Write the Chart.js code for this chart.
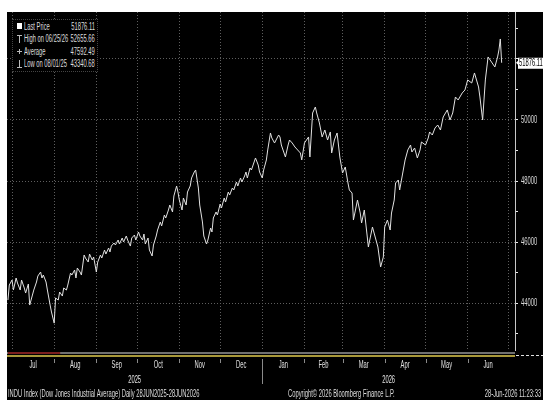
<!DOCTYPE html>
<html>
<head>
<meta charset="utf-8">
<script src="https://cdn.jsdelivr.net/npm/chart.js@4.4.1/dist/chart.umd.min.js"></script>
<style>
  html, body { margin: 0; padding: 0; background: #fff; }
  #frame { position: absolute; left: 7px; top: 12px; width: 536px; height: 388px; background: #000; overflow: hidden; }
  #chart { position: absolute; left: 0; top: 0; }
  .txt { position: absolute; color: #dcdcdc; font-family: 'Liberation Sans', Arial, sans-serif; font-size: 10px; line-height: 11px; white-space: nowrap; transform: scaleX(0.58); transform-origin: left top; }
  .txt.r { transform-origin: right top; }
  #legend { position: absolute; left: 5px; top: 7px; width: 84px; height: 51px; background: #000; border: 1px dotted #444; }
  .row { position: absolute; left: 0; width: 84px; height: 11px; }
  .row .lab { left: 11px; top: 0; }
  .row .val { right: 2px; top: 0; }
  .ico { position: absolute; background: #bbb; }
</style>
</head>
<body>
<div id="frame">
  <canvas id="chart" width="536" height="388" style="width:536px;height:388px"></canvas>
  <div id="legend"></div>
  <div class="txt" style="left:1px;top:376px">INDU Index (Dow Jones Industrial Average) Daily 28JUN2025-28JUN2026</div>
  <div class="txt" style="left:281px;top:376px">Copyright© 2026 Bloomberg Finance L.P.</div>
  <div class="txt r" style="right:2px;top:376px">28-Jun-2026 11:23:33</div>
</div>
<script>
// day 0 = 28 Jun 2025
const startUtc = Date.UTC(2025, 5, 28);
function dayOf(y, m, d) {
    return Math.round((Date.UTC(y, m - 1, d) - startUtc) / 86400000);
}

// daily close (day offset, price)
const days = [
    0, 1, 3, 4, 6, 7, 9, 10, 12, 13, 15, 16, 18, 19, 21, 22, 24, 25, 26, 28, 29, 31, 32, 34, 35, 37, 38, 40, 41, 43, 44,
    46, 47, 49, 50, 51, 53, 54, 56, 57, 59, 60, 62, 63, 65, 66, 68, 69, 71, 72, 74, 75, 76, 78, 79, 81, 82, 84, 85, 87, 88,
    90, 91, 93, 94, 96, 97, 99, 100, 101, 103, 104, 106, 107, 109, 110, 112, 113, 115, 116, 118, 119, 121, 122, 124, 125, 126,
    128, 129, 131, 132, 134, 135, 137, 138, 140, 141, 143, 144, 146, 147, 149, 150, 151, 153, 154, 156, 157, 159, 160, 162, 163,
    165, 166, 168, 169, 171, 172, 174, 175, 176, 178, 179, 181, 182, 184, 185, 187, 188, 190, 191, 193, 194, 196, 199, 200, 201,
    204, 206, 207, 209, 211, 213, 215, 216, 218, 221, 222, 224, 226, 227, 229, 231, 233, 235, 237, 238, 240, 242, 244, 246, 248,
    250, 251, 253, 254, 257, 259, 260, 262, 265, 266, 268, 270, 272, 274, 276, 277, 279, 281, 282, 284, 285, 287, 288, 290, 292,
    294, 296, 297, 299, 301, 303, 304, 307, 309, 310, 312, 314, 316, 318, 320, 323, 325, 327, 329, 331, 334, 336, 338, 341, 343,
    346, 347, 349, 351, 353, 356, 358, 360, 361, 362, 363
];
const closes = [
    44098, 44590, 44754, 44426, 44820, 44656, 44426, 44754, 44492, 44328, 44623, 43934, 44262, 44426, 44689, 44885, 45016, 44820,
    44918, 44689, 44426, 43934, 43705, 43340.68, 44164, 44098, 44361, 44229, 44492, 44426, 44590,
    44983, 44918, 45082, 44820, 45147, 45016, 44918, 45573, 45475, 45344, 45606, 45410, 45508, 45016, 45344, 45573, 45475, 45737,
    45606, 45803, 45672, 45868, 45967, 45901, 46065, 45934, 46131, 46000, 46197, 46065,
    45868, 46131, 46229, 46065, 46328, 46197, 46065, 46262, 45934, 46131, 45737, 45541, 45901, 46197, 46393, 46656, 46525, 46885,
    46787, 47049, 47213, 46984, 47508, 47836, 47639, 47377,
    47049, 47443, 47213, 47639, 47836, 48098, 48295, 48361, 47770, 47213, 46656, 46197, 45934, 46065, 46459, 46328, 46787, 46984,
    46885, 47246, 47115, 47443, 47311, 47639, 47541,
    47770, 47705, 47967, 47836, 48098, 47967, 48164, 48295, 48098, 48426, 48361, 48623, 48754, 48525, 48295, 48098, 48361, 48689,
    49017, 49574, 49410, 49246, 49508, 49443, 49180,
    48787, 49180, 49344, 49246, 49115, 49017, 48918, 48689, 49246, 49443, 48787, 50230, 50426, 50230, 49902, 49443, 49672, 49344,
    49607, 48918, 49344, 49574, 48787, 48262, 48459,
    47934, 47705, 47606, 46721, 47377, 46951, 46623, 47049, 45836, 46065, 46492, 46164, 45836, 45180, 45508, 46492, 46721, 46393,
    46951, 47377, 47934, 48033, 47705, 48197, 48689,
    49017, 49180, 48951, 49082, 48754, 49017, 49279, 49180, 49410, 49607, 49508, 49738, 49836, 49672, 50099, 50328, 50000, 50230,
    50754, 50656, 50886, 50984, 51312, 51213, 51541,
    51082, 50754, 50000, 51312, 52066, 51869, 51738, 52066, 52295, 52655.66, 51876.11
];
const lastPrice = 51876.11;

const legendLabels = ['Last Price', 'High on 06/25/26', 'Average', 'Low on 08/01/25'];
const legendValues = ['51876.11', '52655.66', '47592.49', '43340.68'];

const monthNames = ['Jul', 'Aug', 'Sep', 'Oct', 'Nov', 'Dec', 'Jan', 'Feb', 'Mar', 'Apr', 'May', 'Jun'];
const monthStarts = [
    [2025, 7], [2025, 8], [2025, 9], [2025, 10], [2025, 11], [2025, 12],
    [2026, 1], [2026, 2], [2026, 3], [2026, 4], [2026, 5], [2026, 6], [2026, 7]
];
const yearNames = ['2025', '2026'];
const yLabelled = [44000, 46000, 48000, 50000];
const yMinor = [43000, 44000, 45000, 46000, 47000, 48000, 49000, 50000, 51000, 52000, 53000];

const fontFam = "'Liberation Sans', Arial, sans-serif";
const squeeze = 0.58;
const monthDays = monthStarts.map(m => dayOf(m[0], m[1], 1));
const xMin = -0.7, xMax = 372.8;

// legend box
const legend = document.getElementById('legend');
legendLabels.forEach((lab, i) => {
    const row = document.createElement('div');
    row.className = 'row';
    row.style.top = (1 + i * 12.3) + 'px';
    row.innerHTML = '<span class="txt lab">' + lab + '</span><span class="txt r val">' + legendValues[i] + '</span>';
    legend.appendChild(row);
});
function ico(l, t, w, h, c) {
    const d = document.createElement('div');
    d.className = 'ico';
    Object.assign(d.style, { left: l + 'px', top: t + 'px', width: w + 'px', height: h + 'px' });
    if (c) d.style.background = c;
    legend.appendChild(d);
}
ico(4, 3, 5, 6, '#fff');
ico(6, 15, 1, 8); ico(4, 15, 5, 1);
ico(4, 31, 5, 1); ico(6, 29, 1, 5);
ico(6, 40, 1, 8); ico(4, 47, 5, 1);

// narrow text, like the terminal font
function say(c, str, x, y, align) {
    c.save();
    c.translate(x, y);
    c.scale(squeeze, 1);
    c.textAlign = align || 'center';
    c.fillText(str, 0, 0);
    c.restore();
}

const decor = {
    id: 'decor',
    afterDraw(chart) {
        const c = chart.ctx;
        const xs = chart.scales.x, ys = chart.scales.y;
        const area = chart.chartArea;
        const b = area.bottom;
        c.save();
        // time slider strip under the plot
        c.fillStyle = '#707070';
        c.fillRect(area.left, b + 2, area.right - area.left, 2);
        c.fillStyle = '#7a1e1e';
        c.fillRect(area.left + 1, b + 2, xs.getPixelForValue(monthDays[1]) + 5 - area.left, 2);
        c.fillStyle = '#a8983a';
        c.fillRect(area.left, b + 5, area.right - area.left, 2);
        c.strokeStyle = '#e0e0e0';
        c.setLineDash([3, 2]);
        c.beginPath();
        c.moveTo(area.right + 1, b + 5.5);
        c.lineTo(chart.width, b + 5.5);
        c.stroke();
        c.setLineDash([]);

        c.font = '10px ' + fontFam;
        c.textBaseline = 'middle';

        // right axis labels
        c.fillStyle = '#d8d8d8';
        yLabelled.forEach(v => say(c, String(v), area.right + 6, ys.getPixelForValue(v), 'left'));

        // month labels, centred between month starts
        c.fillStyle = '#e0e0e0';
        c.strokeStyle = '#8a8a8a';
        c.lineWidth = 1;
        for (let i = 0; i < monthNames.length; i++) {
            const a = Math.max(xs.getPixelForValue(monthDays[i]), area.left);
            const e = Math.min(xs.getPixelForValue(monthDays[i + 1]), area.right);
            say(c, monthNames[i], (a + e) / 2, b + 15);
            if (i > 0) {
                const px = Math.round(xs.getPixelForValue(monthDays[i])) + 0.5;
                c.beginPath();
                c.moveTo(px, b + 9);
                c.lineTo(px, i === 6 ? b + 34 : b + 13);
                c.stroke();
            }
        }
        // year labels
        const jan = xs.getPixelForValue(monthDays[6]);
        say(c, yearNames[0], (area.left + jan) / 2, b + 30);
        say(c, yearNames[1], (jan + area.right) / 2, b + 30);

        // last price tag
        const py = ys.getPixelForValue(lastPrice);
        c.fillStyle = '#fff';
        c.fillRect(area.right + 3, py - 5, 25, 11);
        c.beginPath();
        c.moveTo(area.right + 1, py);
        c.lineTo(area.right + 3, py - 2);
        c.lineTo(area.right + 3, py + 2);
        c.fill();
        c.fillStyle = '#000';
        say(c, lastPrice.toFixed(2), area.right + 4, py + 0.5, 'left');
        c.restore();
    }
};

const points = days.map((d, i) => ({ x: d, y: closes[i] }));

new Chart(document.getElementById('chart'), {
    type: 'line',
    data: {
        datasets: [{
            data: points,
            borderColor: '#e2e2e2',
            borderWidth: 1,
            pointRadius: 0,
            tension: 0
        }]
    },
    options: {
        responsive: false,
        animation: false,
        layout: { padding: 0 },
        plugins: { legend: { display: false }, tooltip: { enabled: false } },
        scales: {
            x: {
                type: 'linear',
                min: xMin,
                max: xMax,
                afterBuildTicks: s => { s.ticks = monthDays.map(v => ({ value: v })); },
                afterFit: s => { s.height = 50; },
                ticks: { display: false },
                grid: { color: '#5e5e5e', lineWidth: 1, drawTicks: false },
                border: { display: false, dash: [1, 2] }
            },
            y: {
                position: 'right',
                min: 42460,
                max: 53540,
                afterBuildTicks: s => { s.ticks = yMinor.map(v => ({ value: v })); },
                afterFit: s => { s.width = 28; },
                ticks: { display: false },
                grid: {
                    color: ctx => (ctx.tick && ctx.tick.value % 2000 === 0 ? '#5e5e5e' : 'rgba(0,0,0,0)'),
                    tickColor: '#e8e8e8',
                    tickLength: 3,
                    drawTicks: true
                },
                border: { display: true, color: '#c8c8c8', width: 1, dash: [1, 2] }
            }
        }
    },
    plugins: [decor]
});
</script>
</body>
</html>
